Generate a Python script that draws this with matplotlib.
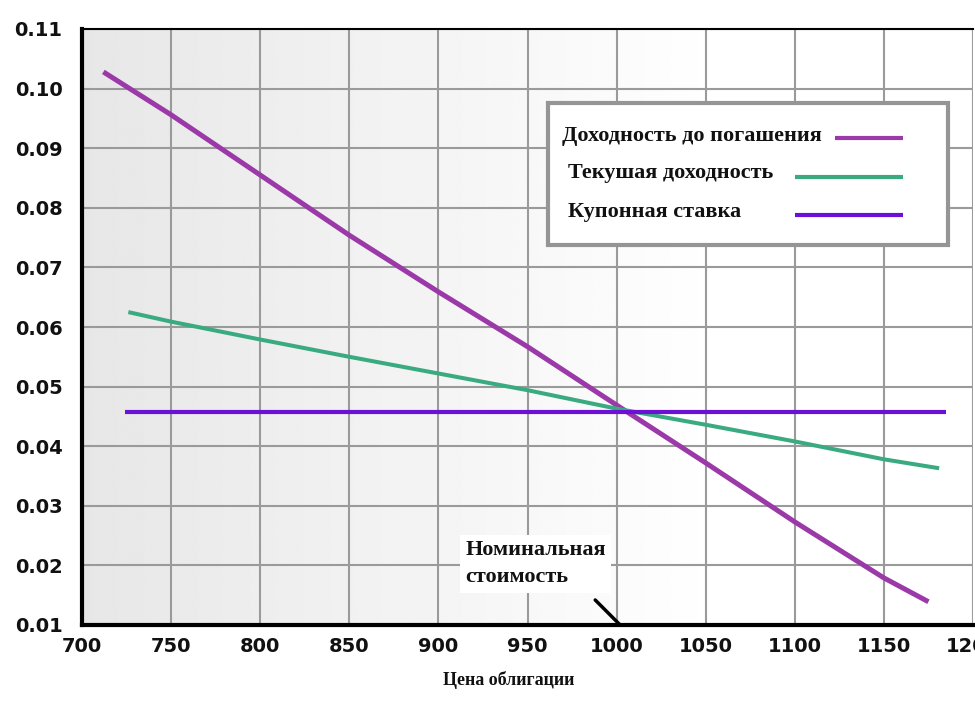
import numpy as np
import matplotlib
matplotlib.use("Agg")
import matplotlib.pyplot as plt
from matplotlib.patches import Rectangle

# ---- data ----
ytm_price = [712, 750, 800, 850, 900, 950, 1000, 1050, 1100, 1150, 1175]
ytm_value = [0.1028, 0.0956, 0.0855, 0.0754, 0.0659, 0.0567, 0.0469, 0.0372, 0.0273, 0.0179, 0.0139]

cy_price = [726, 750, 800, 850, 900, 950, 1000, 1050, 1100, 1150, 1181]
cy_value = [0.0625, 0.0609, 0.0579, 0.0550, 0.0522, 0.0494, 0.0463, 0.0436, 0.0408, 0.0378, 0.0363]

coupon_price = [724, 1185]
coupon_value = [0.0457, 0.0457]

x_ticks = [700, 750, 800, 850, 900, 950, 1000, 1050, 1100, 1150, 1200]
y_ticks = [0.01, 0.02, 0.03, 0.04, 0.05, 0.06, 0.07, 0.08, 0.09, 0.10, 0.11]
y_tick_labels = ["0.01", "0.02", "0.03", "0.04", "0.05", "0.06", "0.07", "0.08", "0.09", "0.10", "0.11"]

labels = ["Доходность до погашения", "Текушая доходность", "Купонная ставка"]
colors = ["#9b39a8", "#3aab80", "#6c10d8"]
x_label = "Цена облигации"
note = "Номинальная\nстоимость"
note_point = (1002, 0.0100)
note_from = (988, 0.0142)

# ---- figure ----
fig = plt.figure(figsize=(9.75, 7.04), dpi=100)
ax = fig.add_axes([82 / 975, 79 / 704, 891 / 975, 596 / 704])

# background gradient (grey on the left fading to white)
grad = np.linspace(0, 1, 400)
g = np.clip(0.905 + 0.095 * (grad / 0.72), 0, 1)
img = np.tile(g, (10, 1))
ax.imshow(img, cmap="gray", vmin=0, vmax=1, extent=[0, 1, 0, 1],
          transform=ax.transAxes, aspect="auto", zorder=0, interpolation="bilinear")

ax.set_xlim(700, 1200)
ax.set_ylim(0.01, 0.11)
ax.set_xticks(x_ticks)
ax.set_yticks(y_ticks)
ax.set_yticklabels(y_tick_labels)
ax.grid(True, color="#9a9a9a", linewidth=1.5, zorder=1)
ax.set_axisbelow(True)

for lbl in ax.get_xticklabels() + ax.get_yticklabels():
    lbl.set_fontfamily("DejaVu Sans")
    lbl.set_fontweight("bold")
    lbl.set_fontsize(14)
ax.tick_params(axis="both", length=0, colors="#111111")
ax.tick_params(axis="y", pad=14)
ax.tick_params(axis="x", pad=9)

ax.spines["left"].set_linewidth(3)
ax.spines["bottom"].set_linewidth(3)
ax.spines["top"].set_linewidth(1.5)
ax.spines["right"].set_visible(False)
for s in ("left", "bottom", "top"):
    ax.spines[s].set_color("black")
    ax.spines[s].set_zorder(5)

ax.plot(ytm_price, ytm_value, color=colors[0], lw=3.6, zorder=3, solid_capstyle="butt")
ax.plot(cy_price, cy_value, color=colors[1], lw=2.9, zorder=3, solid_capstyle="butt")
ax.plot(coupon_price, coupon_value, color=colors[2], lw=3.0, zorder=3, solid_capstyle="butt")

# legend drawn as a box
def px(xp):
    return (xp - 82) / 891

def py(yp):
    return (625 - yp) / 596

ax.add_patch(Rectangle((px(548), py(245)), px(948) - px(548), py(103) - py(245),
                       transform=ax.transAxes, facecolor="white", edgecolor="#959595",
                       linewidth=3, zorder=6))
serif = ["Liberation Serif", "DejaVu Serif"]
rows = [(562, 136, 835, 138), (568, 173, 795, 177), (568, 212, 795, 215)]
for (tx, ty, lx, ly), lab, col in zip(rows, labels, colors):
    ax.text(px(tx), py(ty), lab, transform=ax.transAxes, ha="left", va="center",
            fontsize=16, fontweight="bold", family=serif, color="#111111", zorder=7)
    ax.plot([px(lx), px(903)], [py(ly), py(ly)], transform=ax.transAxes,
            color=col, lw=3.0, zorder=7, solid_capstyle="butt")

# face value annotation
ax.annotate("", xy=note_point, xytext=note_from,
            arrowprops=dict(arrowstyle="-", color="black", lw=2.5, shrinkA=0, shrinkB=0),
            zorder=4)
ax.text(915, 0.0242, note, ha="left", va="top", fontsize=16, fontweight="bold",
        family=serif, color="#111111", linespacing=1.45, zorder=6,
        bbox=dict(boxstyle="square,pad=0.25", facecolor="white", edgecolor="none"))

fig.text(509 / 975, 1 - 680 / 704, x_label, ha="center", va="center",
         fontsize=13, fontweight="bold", family=serif, color="#111111")

fig.savefig("out.png", dpi=100)
